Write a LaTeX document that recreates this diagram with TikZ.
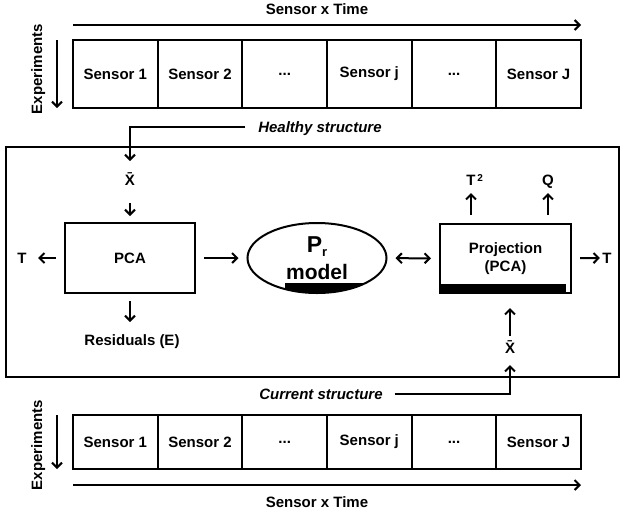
\documentclass[tikz,border=0pt]{standalone}
\usepackage{fontspec}
\setmainfont{Liberation Sans}
\usepackage{tikz}
\usetikzlibrary{arrows.meta,shapes.geometric}
\newcommand{\cellw}[0] {84.67pt}

\begin{document}
\begin{tikzpicture}[x=1pt,y=-1pt,
    font=\fontsize{15}{18}\selectfont\bfseries,
    line width=2pt,
    >={Straight Barb[length=5pt,width=10pt]},
    cell/.style={shape=rectangle,draw=black,minimum width=\cellw,inner sep=0pt},
    lbl/.style={inner sep=0pt,text height=10pt,text depth=0pt}]
        \useasboundingbox (0,0) rectangle (624,515);

        % healthy data (top)
        \node[lbl] (timeA) at (317,9) {Sensor x Time};
        \coordinate (timeA1) at (73,25);
        \coordinate (timeA2) at (581,25);
        \draw[->] (timeA1) -- (timeA2);
        \node[lbl,rotate=90] (expA) at (37,69) {Experiments};
        \coordinate (expA1) at (57,40);
        \coordinate (expA2) at (57,108);
        \draw[->] (expA1) -- (expA2);
        \node[cell,minimum height=68pt] (a1) at (115.33,74) {Sensor 1};
        \node[cell,minimum height=68pt] (a2) at (200.00,74) {Sensor 2};
        \node[cell,minimum height=68pt] (a3) at (284.67,74) {...};
        \node[cell,minimum height=68pt] (a4) at (369.33,74) {Sensor j};
        \node[cell,minimum height=68pt] (a5) at (454.00,74) {...};
        \node[cell,minimum height=68pt] (a6) at (538.67,74) {Sensor J};

        % monitoring frame
        \node[shape=rectangle,draw=black,minimum width=613pt,minimum height=230pt] (frame) at (312.5,262) {};
        \node[lbl,font=\fontsize{15}{18}\selectfont\bfseries\itshape] (healthy) at (320,127) {Healthy structure};
        \node[lbl] (xbarA) at (130,180) {\=X};
        \node[shape=rectangle,draw=black,minimum width=130pt,minimum height=70pt] (pca) at (130,258) {PCA};
        \node[lbl] (tA) at (22,258) {T};
        \node[lbl] (res) at (132,340) {Residuals (E)};
        \begin{scope}
            \clip (317,258) ellipse [x radius=69.5pt, y radius=35pt];
            \fill (285,283) rectangle (400,300);
        \end{scope}
        \node[shape=ellipse,draw=black,minimum width=139pt,minimum height=70pt,inner sep=0pt,align=center,
              font=\fontsize{21}{27}\selectfont\bfseries] (model) at (317,258)
              {{\fontsize{23}{27}\selectfont P\raisebox{-0.35ex}{\fontsize{13}{13}\selectfont r}}\\model};
        \fill (440,284) rectangle (566,293);
        \node[shape=rectangle,draw=black,minimum width=131pt,minimum height=69pt,align=center] (proj) at (505.5,258.5) {Projection\\(PCA)};
        \node[lbl] (tsq) at (471,180) {T\rlap{\raisebox{0.5ex}{\fontsize{10}{10}\selectfont\,2}}};
        \node[lbl] (q) at (548,180) {Q};
        \node[lbl] (tB) at (607,258) {T};
        \node[lbl] (xbarB) at (510,348) {\=X};
        \node[lbl,font=\fontsize{15}{18}\selectfont\bfseries\itshape] (current) at (321,394) {Current structure};

        %edges within the frame
        \draw[->, shorten <=12pt, shorten >=13pt] (healthy) -| (xbarA);
        \path[->] (xbarA) edge [shorten <=17pt, shorten >=6pt] (pca);
        \path[->] (pca) edge [shorten <=8pt, shorten >=10.5pt] (tA);
        \path[->] (pca.south) edge [shorten <=7pt, shorten >=12pt] (pca.south |- res.north);
        \path[->] (pca) edge [shorten <=8pt, shorten >=8pt] (model);
        \path[<->] (model) edge [shorten <=8pt, shorten >=8pt] (proj);
        \path[->] (proj) edge [shorten <=8pt, shorten >=1.5pt] (tB);
        \path[->] (proj.north -| tsq) edge [shorten <=8pt, shorten >=7pt] (tsq);
        \path[->] (proj.north -| q) edge [shorten <=8pt, shorten >=7pt] (q);
        \path[->] (xbarB) edge [shorten <=6pt, shorten >=14pt] (proj.south -| xbarB);
        \draw[->, shorten <=11pt, shorten >=11pt] (current) -| (xbarB);

        % current data (bottom)
        \node[cell,minimum height=54pt] (b1) at (115.33,442) {Sensor 1};
        \node[cell,minimum height=54pt] (b2) at (200.00,442) {Sensor 2};
        \node[cell,minimum height=54pt] (b3) at (284.67,442) {...};
        \node[cell,minimum height=54pt] (b4) at (369.33,442) {Sensor j};
        \node[cell,minimum height=54pt] (b5) at (454.00,442) {...};
        \node[cell,minimum height=54pt] (b6) at (538.67,442) {Sensor J};
        \node[lbl,rotate=90] (expB) at (37,445) {Experiments};
        \coordinate (expB1) at (57,415);
        \coordinate (expB2) at (57,469);
        \draw[->] (expB1) -- (expB2);
        \coordinate (timeB1) at (73,485);
        \coordinate (timeB2) at (581,485);
        \draw[->] (timeB1) -- (timeB2);
        \node[lbl] (timeB) at (317,502) {Sensor x Time};
\end{tikzpicture}
\end{document}
